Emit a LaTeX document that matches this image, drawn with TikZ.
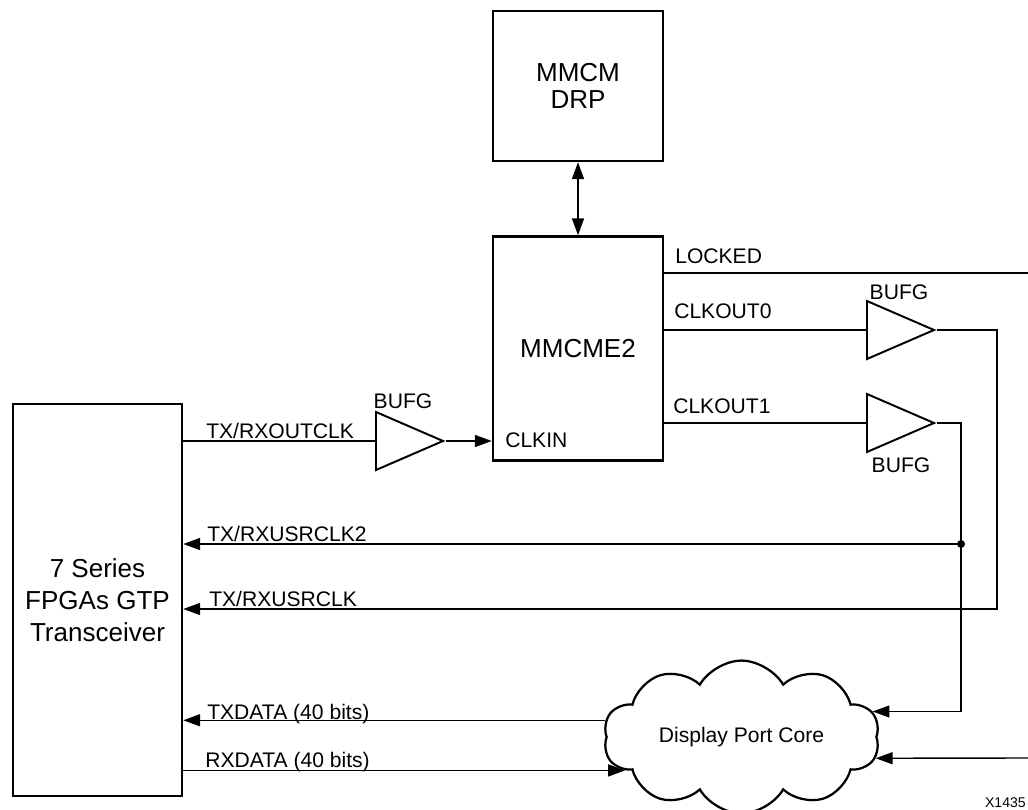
\documentclass[tikz,border=0pt]{standalone}
\usepackage{fontspec}
\setmainfont{Liberation Sans}
\usetikzlibrary{arrows.meta, positioning, shapes.geometric, shapes.symbols}

\begin{document}
\begin{tikzpicture}[x=0.025cm, y=-0.025cm, >={Triangle[length=4.2mm, width=3mm]},
  blk/.style={draw, line width=1.8pt, inner sep=0pt, align=center},
  bufg/.style={draw, line width=1.4pt, isosceles triangle, isosceles triangle stretches,
    inner sep=0pt, minimum width=1.45cm, minimum height=1.675cm, anchor=lower side},
  sig/.style={line width=1pt},
  lbl/.style={font=\fontsize{15}{18}\selectfont, inner sep=0pt, anchor=base west}]
  \useasboundingbox (0,0) rectangle (1028,810);

  % Blocks
  \node[blk, minimum width=4.25cm, minimum height=3.75cm,
    font=\fontsize{18.5}{19.2}\selectfont] (drp) at (578,86) {MMCM\\DRP};
  \node[blk, minimum width=4.25cm, minimum height=5.6cm,
    font=\fontsize{18.5}{22}\selectfont] (mm) at (578,348.5) {MMCME2};
  \node[blk, minimum width=4.225cm, minimum height=9.8cm,
    font=\fontsize{18.5}{22.8}\selectfont] (gtp) at (97.5,600)
    {7 Series\\FPGAs GTP\\Transceiver};
  \node[cloud, draw, line width=1.6pt, cloud puffs=10, cloud puff arc=120, aspect=2,
    minimum width=6.9cm, minimum height=3.38cm, inner sep=0pt,
    font=\fontsize{15}{18}\selectfont] (dp) at (741.5,737) {Display Port Core};

  % Clock buffers
  \node[bufg] (b1) at (375,441) {};
  \node[bufg] (b0) at (866,330) {};
  \node[bufg] (b2) at (866,423) {};
  \node[font=\fontsize{15}{18}\selectfont, inner sep=0pt, anchor=base] at (403,408) {BUFG};
  \node[font=\fontsize{15}{18}\selectfont, inner sep=0pt, anchor=base] at (899,299) {BUFG};
  \node[font=\fontsize{15}{18}\selectfont, inner sep=0pt, anchor=base] at (901,472) {BUFG};

  \coordinate (lk) at (1028,273);
  \coordinate (tap) at (961,544);
  \coordinate (turn) at (997,609);
  \coordinate (dpin) at (1028,758);

  % Clock path into the MMCM
  \draw[sig] (gtp.east |- b1.lower side) -- (b1.lower side);
  \draw[sig,->] (b1.apex) -- (mm.west |- b1.apex);
  \draw[sig,<->] (drp) -- (mm);

  % MMCM outputs
  \draw[sig] (mm.east |- lk) -- (lk);
  \draw[sig] (mm.east |- b0.lower side) -- (b0.lower side);
  \draw[sig] (mm.east |- b2.lower side) -- (b2.lower side);
  \draw[sig,->] (b0.apex) -| (turn) -- (gtp.east |- turn);
  \draw[sig,->] (b2.apex) -| (dp.11 -| tap) -- (dp.11);
  \draw[sig,->] (tap) -- (gtp.east |- tap);
  \fill (tap) circle (1mm);

  % Data paths
  \draw[sig,->] (dp.173) -- (gtp.east |- dp.173);
  \draw[sig,->] (gtp.east |- dp.196) -- (dp.196);
  \draw[sig,->] (dpin) -- (dp.351);

  % Signal names
  \node[lbl] at (206,438) {TX/RXOUTCLK};
  \node[lbl] at (207,541) {TX/RXUSRCLK2};
  \node[lbl] at (209,606) {TX/RXUSRCLK};
  \node[lbl] at (207,719) {TXDATA (40 bits)};
  \node[lbl] at (205,767) {RXDATA (40 bits)};
  \node[lbl] at (505,447) {CLKIN};
  \node[lbl] at (675,263) {LOCKED};
  \node[lbl] at (674,318) {CLKOUT0};
  \node[lbl] at (673,413) {CLKOUT1};
  \node[font=\fontsize{10}{12}\selectfont, inner sep=0pt, anchor=base east] at (1026,807) {X1435};
\end{tikzpicture}
\end{document}
